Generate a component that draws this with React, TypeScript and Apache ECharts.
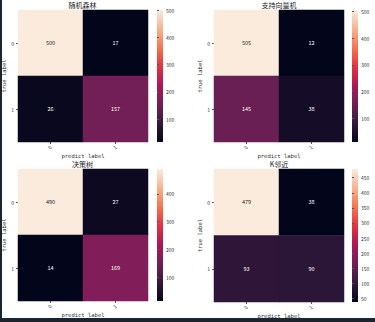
import React, { useEffect, useRef } from "react";
import * as echarts from "echarts";

const classLabels = ["0", "1"];
const titles = ["随机森林", "支持向量机", "决策树", "K邻近"];
const rfMatrix = [[500, 17], [26, 157]];
const svmMatrix = [[505, 12], [145, 38]];
const dtMatrix = [[490, 27], [14, 169]];
const knnMatrix = [[479, 38], [93, 90]];
const rfTicks = [100, 200, 300, 400, 500];
const svmTicks = [100, 200, 300, 400, 500];
const dtTicks = [100, 200, 300, 400];
const knnTicks = [50, 100, 150, 200, 250, 300, 350, 400, 450];
const rocket = ["#03051a", "#35193e", "#701f57", "#ad1759", "#e13342", "#f37651", "#f6b48f", "#faebdd"];

const matrices = [rfMatrix, svmMatrix, dtMatrix, knnMatrix];
const tickSets = [rfTicks, svmTicks, dtTicks, knnTicks];

const panels = [
  { gl: 17, gt: 10, gw: 131, gh: 132, cl: 157 },
  { gl: 214, gt: 10, gw: 130, gh: 132, cl: 352 },
  { gl: 17, gt: 169, gw: 131, gh: 132, cl: 157 },
  { gl: 214, gt: 169, gw: 130, gh: 133, cl: 352 },
];

const sans = "'Noto Sans CJK SC', 'DejaVu Sans', sans-serif";
const mono = "'DejaVu Sans Mono', monospace";
const textColor = "#333333";

export default function App() {
  const ref = useRef<HTMLDivElement>(null);
  useEffect(() => {
    if (!ref.current) return;
    const chart = echarts.init(ref.current, null, { renderer: "svg" });
    const grid: any[] = [];
    const xAxis: any[] = [];
    const yAxis: any[] = [];
    const series: any[] = [];
    const visualMap: any[] = [];
    const graphic: any[] = [];

    matrices.forEach((m, i) => {
      const p = panels[i];
      const flat = m.flat();
      const vmin = Math.min(...flat);
      const vmax = Math.max(...flat);
      const hg = i * 2;
      const cg = i * 2 + 1;
      grid.push({ left: p.gl, top: p.gt, width: p.gw, height: p.gh, containLabel: false });
      grid.push({
        left: p.cl,
        top: p.gt,
        width: 6,
        height: p.gh,
        show: true,
        borderWidth: 0,
        backgroundColor: new echarts.graphic.LinearGradient(
          0, 1, 0, 0,
          rocket.map((c, k) => ({ offset: k / (rocket.length - 1), color: c }))
        ),
      });
      xAxis.push({
        type: "category",
        gridIndex: hg,
        data: classLabels,
        name: "predict label",
        nameLocation: "middle",
        nameGap: 9.5,
        nameTextStyle: { fontFamily: mono, fontSize: 5.5, color: textColor },
        axisLine: { show: false, lineStyle: { color: "#333" } },
        axisTick: { show: true, alignWithLabel: true, length: 2, lineStyle: { color: "#555" } },
        axisLabel: { rotate: 45, fontSize: 5, margin: 4, color: textColor, fontFamily: sans },
        splitLine: { show: false },
      });
      xAxis.push({ type: "value", gridIndex: cg, min: 0, max: 1, show: false });
      yAxis.push({
        type: "category",
        gridIndex: hg,
        data: classLabels,
        inverse: true,
        name: "true label",
        nameLocation: "middle",
        nameGap: 11,
        nameRotate: 90,
        nameTextStyle: { fontFamily: mono, fontSize: 5.5, color: textColor },
        axisLine: { show: false, lineStyle: { color: "#333" } },
        axisTick: { show: true, alignWithLabel: true, length: 2, lineStyle: { color: "#555" } },
        axisLabel: { fontSize: 5, margin: 4, color: textColor, fontFamily: sans },
        splitLine: { show: false },
      });
      const ticks = tickSets[i];
      yAxis.push({
        type: "value",
        gridIndex: cg,
        min: vmin,
        max: vmax,
        position: "right",
        axisLine: { show: false },
        splitLine: { show: false },
        axisTick: { show: true, length: 2, customValues: ticks, lineStyle: { color: "#555" } },
        axisLabel: { show: true, customValues: ticks, fontSize: 5, margin: 3, color: textColor, fontFamily: sans },
      });
      const data: any[] = [];
      m.forEach((row, r) =>
        row.forEach((v, c) => {
          const t = (v - vmin) / (vmax - vmin);
          data.push({ value: [c, r, v], label: { color: t > 0.6 ? "#262626" : "#ffffff" } });
        })
      );
      series.push({
        type: "heatmap",
        xAxisIndex: hg,
        yAxisIndex: hg,
        data,
        label: { show: true, fontSize: 5.5, fontFamily: sans },
        itemStyle: { borderWidth: 0 },
        emphasis: { disabled: true },
      });
      visualMap.push({
        type: "continuous",
        show: false,
        seriesIndex: i,
        dimension: 2,
        min: vmin,
        max: vmax,
        inRange: { color: rocket },
      });
      graphic.push({
        type: "text",
        x: p.gl + p.gw / 2,
        y: p.gt - 5,
        style: {
          text: titles[i],
          fontSize: 7,
          fontFamily: sans,
          fill: "#222",
          align: "center",
          verticalAlign: "middle",
        },
      });
    });

    graphic.push({ type: "rect", shape: { x: 0, y: 0, width: 2, height: 322 }, style: { fill: "#1b2530" } });
    graphic.push({ type: "rect", shape: { x: 0, y: 318, width: 375, height: 4 }, style: { fill: "#1b2530" } });

    chart.setOption({
      animation: false,
      backgroundColor: "#ffffff",
      grid,
      xAxis,
      yAxis,
      visualMap,
      series,
      graphic,
    });
    return () => chart.dispose();
  }, []);
  return <div ref={ref} style={{ position: "absolute", left: 0, top: 0, width: 375, height: 322 }} />;
}
